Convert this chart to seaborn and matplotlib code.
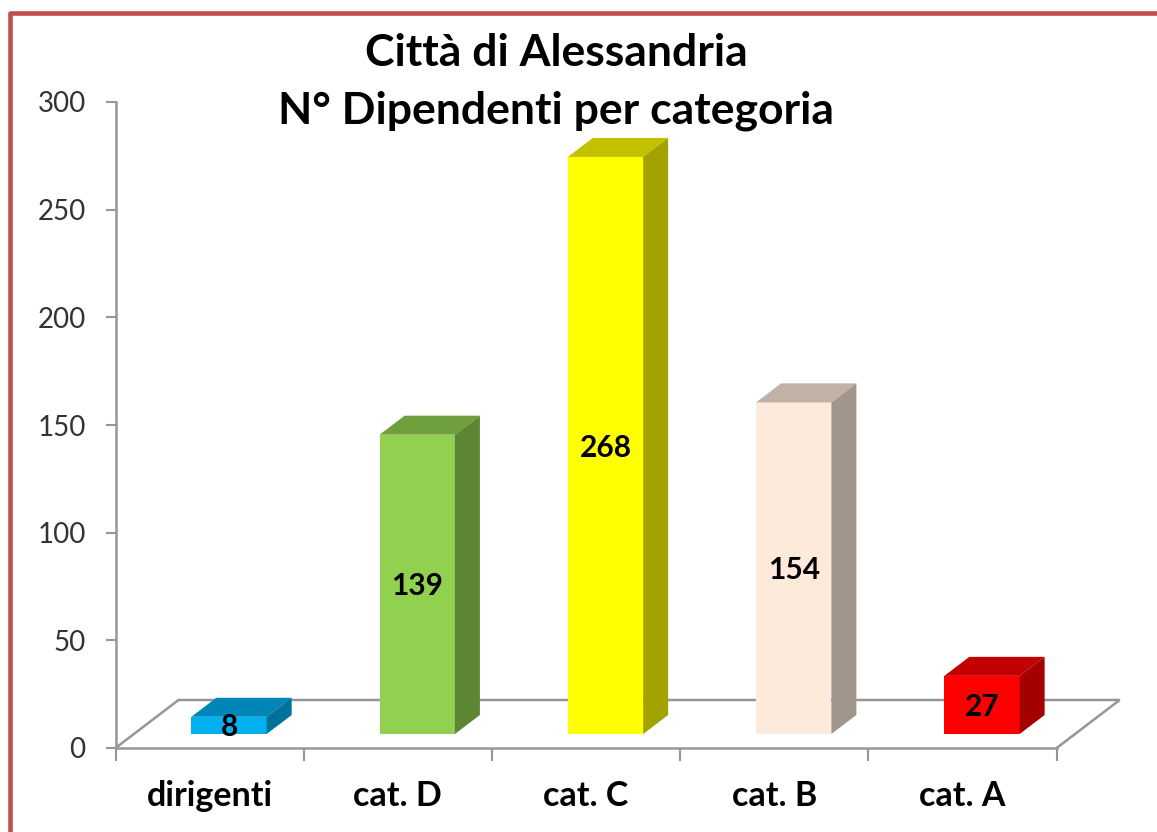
import matplotlib
matplotlib.use("Agg")
import matplotlib.pyplot as plt
from matplotlib.lines import Line2D
from matplotlib.patches import Polygon
from matplotlib.colors import to_rgb
import pandas as pd
import seaborn as sns

categorie = ["dirigenti", "cat. D", "cat. C", "cat. B", "cat. A"]
dipendenti = [8, 139, 268, 154, 27]
colori = ["#00B0F0", "#92D050", "#FFFF00", "#FDEADA", "#FF0000"]
y_ticks = [0, 50, 100, 150, 200, 250, 300]

W, H = 1157, 832
grigio = "#969696"

sns.set_theme(style="white")
plt.rcParams["font.family"] = ["Lato", "DejaVu Sans"]

fig = plt.figure(figsize=(W / 100, H / 100), dpi=100, facecolor="white")
ax = fig.add_axes([115.5 / W, 1 - 748 / H, (1056.7 - 115.5) / W, (748 - 102) / H])

df = pd.DataFrame({"categoria": categorie, "dipendenti": dipendenti})
sns.barplot(data=df, x="categoria", y="dipendenti", hue="categoria", palette=colori,
            dodge=False, legend=False, width=0.4, bottom=6.5, saturation=1,
            linewidth=0, zorder=3, ax=ax)

ax.set_xlim(-0.603, 4.397)
ax.set_ylim(0, 300)
ax.set_xlabel("")
ax.set_ylabel("")

# unita' per pixel, per la finta prospettiva
px_x = 1 / 188.25
px_y = 300 / 646

# pavimento 3D
fx, fy = 63 * px_x, 48 * px_y
x0, x1 = ax.get_xlim()
ax.plot([x0, x0 + fx, x1 + fx, x1], [0, fy, fy, 0], color=grigio, lw=1.8,
        clip_on=False, zorder=1, solid_joinstyle="miter")

# facce superiori e laterali delle barre
dx, dy = 25 * px_x, 19 * px_y
for bar, colore in zip(ax.patches, colori):
    r, g, b = to_rgb(colore)
    xa, xb = bar.get_x(), bar.get_x() + bar.get_width()
    ya, yb = bar.get_y(), bar.get_y() + bar.get_height()
    ax.add_patch(Polygon([(xa, yb), (xa + dx, yb + dy), (xb + dx, yb + dy), (xb, yb)],
                         closed=True, fc=(r * 0.76, g * 0.76, b * 0.76), lw=0,
                         clip_on=False, zorder=3))
    ax.add_patch(Polygon([(xb, ya), (xb + dx, ya + dy), (xb + dx, yb + dy), (xb, yb)],
                         closed=True, fc=(r * 0.64, g * 0.64, b * 0.64), lw=0,
                         clip_on=False, zorder=3))

# etichette dei valori
for cont in ax.containers:
    for etichetta in ax.bar_label(cont, label_type="center", fontsize=21.5, fontweight="bold",
                                  color="black", zorder=5):
        etichetta.xyann = (0, -1.5)

# assi
sns.despine(ax=ax, top=True, right=True)
for lato in ["left", "bottom"]:
    ax.spines[lato].set_color(grigio)
    ax.spines[lato].set_linewidth(1.8)
    ax.spines[lato].set_zorder(2)

ax.set_yticks(y_ticks)
ax.tick_params(axis="y", length=7.5, width=1.5, color=grigio, pad=14, labelsize=20,
               labelcolor="#333333", left=True)
ax.set_xticks([x0 + i for i in range(6)])
ax.set_xticklabels([])
ax.set_xticks([x0 + 0.5 + i for i in range(5)], minor=True)
ax.set_xticklabels(categorie, minor=True, fontsize=24.5, fontweight="bold", color="black")
ax.tick_params(axis="x", which="major", length=9, width=1.5, color=grigio, bottom=True)
ax.tick_params(axis="x", which="minor", length=0, pad=23)

# titolo
fig.text(556 / W, 1 - 53 / H, "Città di Alessandria", ha="center", va="center",
         fontsize=32, fontweight="bold", color="black")
fig.text(556 / W, 1 - 111 / H, "N° Dipendenti per categoria", ha="center", va="center",
         fontsize=32, fontweight="bold", color="black")

# cornice rossa
fig.add_artist(Line2D([9.5 / W, 9.5 / W, 1], [0, 1 - 13 / H, 1 - 13 / H],
                      transform=fig.transFigure, color="#C0504D", lw=3.3,
                      solid_joinstyle="round", solid_capstyle="butt"))

fig.savefig("out.png", dpi=100)
